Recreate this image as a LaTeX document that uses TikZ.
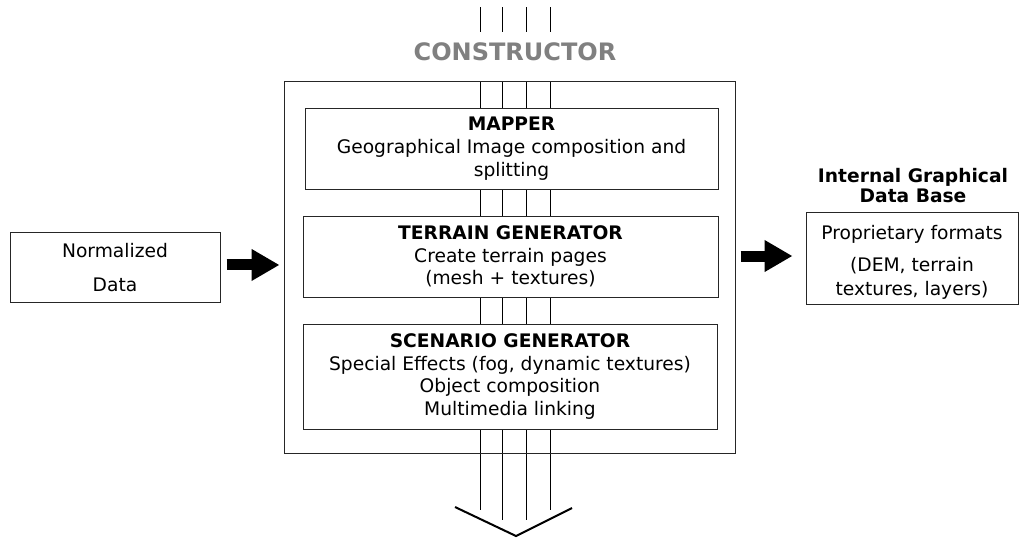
\documentclass[tikz,border=0pt]{standalone}
\usepackage{fontspec}
\setmainfont{DejaVu Sans}
\usetikzlibrary{arrows.meta}
\definecolor{ctorgray}{RGB}{128,128,128}
\tikzset{every picture/.style={line width=0.75pt}}
\tikzset{
  blockbox/.style={draw=black!85, fill=white, align=center, inner sep=0pt,
    font=\fontsize{14}{17}\selectfont},
  fatarrow/.style={line width=8.25pt, -{Triangle[length=21pt,width=22.5pt]}},
}

\begin{document}
\begin{tikzpicture}[x=0.75pt,y=0.75pt,yscale=-1,xscale=1]
\useasboundingbox (0,0) rectangle (1019,537);

%Shape: feed lines above the title
\foreach \lx in {480,502,526,550} {
  \draw (\lx,7) -- (\lx,32);
}
%Shape: feed lines through the constructor
\foreach \lx/\ly in {480/510,502/520,526/520,550/510} {
  \draw (\lx,81) -- (\lx,\ly);
}
%Shape: chevron
\draw [line width=1.5pt] (455,507) -- (516,536) -- (572,508);

% Text Node
\node [font=\bfseries\fontsize{18}{20}\selectfont, text=ctorgray] (ctortitle) at (515,52) {CONSTRUCTOR};

%Shape: outer box
\node [draw=black!85, inner sep=0pt, minimum width=338.25pt, minimum height=279pt] (constructor) at (509.5,267) {};

% Inner boxes
\node [blockbox, minimum width=309.75pt, minimum height=60.75pt] (mapper) at (511.5,148.5)
  {\textbf{MAPPER}\\Geographical Image composition and\\splitting};
\node [blockbox, minimum width=311.25pt, minimum height=60.75pt] (terrain) at (510.5,256.5)
  {\textbf{TERRAIN GENERATOR}\\Create terrain pages\\(mesh + textures)};
\node [blockbox, minimum width=310.5pt, minimum height=78.75pt] (scenario) at (510,376.5)
  {\textbf{SCENARIO GENERATOR}\\Special Effects (fog, dynamic textures)\\Object composition\\Multimedia linking};

% Input and output
\node [blockbox, minimum width=157.5pt, minimum height=52.5pt] (normdata) at (115,267.5)
  {Normalized\\[9pt]Data};
\node [blockbox, minimum width=159pt, minimum height=69pt,
  label={[align=center, yshift=-3pt, font=\fontsize{14}{17}\selectfont]center:{Proprietary formats\\[7pt](DEM, terrain\\[1pt]textures, layers)}}] (dbase) at (912,258) {};
% Text Node
\node [align=center, font=\bfseries\fontsize{14}{15}\selectfont] (dbtitle) at (913,185.5)
  {Internal Graphical\\Data Base};

% Arrows
\draw [fatarrow, shorten <=4.5pt, shorten >=3pt] ([yshift=-1.9pt]normdata.east) -- ([yshift=-1.9pt]normdata.east -| constructor.west);
\draw [fatarrow, shorten <=3.75pt, shorten >=9.75pt] ([yshift=-1.5pt]dbase.west -| constructor.east) -- ([yshift=-1.5pt]dbase.west);
\end{tikzpicture}
\end{document}
